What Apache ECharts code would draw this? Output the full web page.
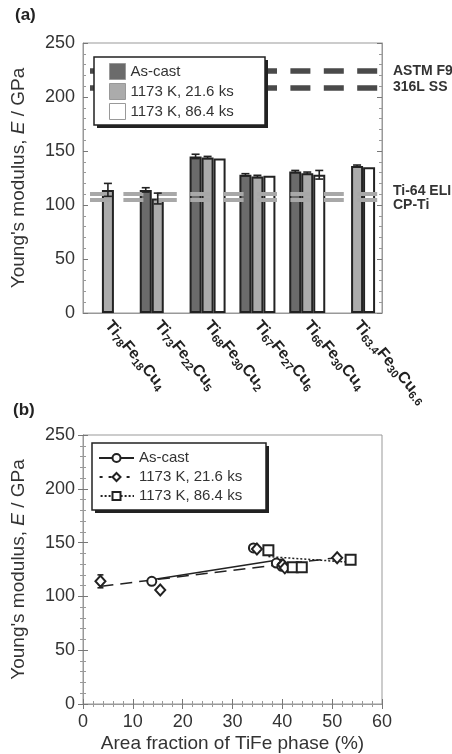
<!DOCTYPE html>
<html>
<head>
<meta charset="utf-8">
<script src="https://cdn.jsdelivr.net/npm/echarts@6/dist/echarts.min.js"></script>
<style>
  html, body { margin: 0; padding: 0; background: #fff; }
  #chart { width: 452px; height: 754px; }
</style>
</head>
<body>
<div id="chart"></div>
<script>
// ---- data ----
var categories = ['Ti78Fe18Cu4', 'Ti73Fe22Cu5', 'Ti68Fe30Cu2', 'Ti67Fe27Cu6', 'Ti66Fe30Cu4', 'Ti63.4Fe30Cu6.6'];
var asCastE = ['-', 114, 145, 128, 131, '-'];
var h216E = [114, 106, 144, 126.5, 129.5, 136];
var h864E = ['-', '-', 143, 127, 128, 135];
var asCastErr = [0, 2, 2, 1, 1, 0];
var h216Err = [6, 5, 1, 1, 1, 1];
var h864Err = [0, 0, 0, 0, 4, 0];
// reference materials (GPa)
var refNames = ['ASTM F90', '316L SS', 'Ti-64 ELI', 'CP-Ti'];
var refValues = [224, 209, 110, 105];

// (b) area fraction of TiFe (%) vs E
var asCastPts = [[13.8, 114], [34.2, 145], [38.8, 131], [39.9, 128]];
var h216Pts = [[3.5, 114], [15.5, 106], [34.9, 144], [40.1, 129.5], [40.5, 126.5], [51, 136]];
var h864Pts = [[37.2, 143], [42.1, 127], [43.9, 127], [53.7, 134]];
var h216PtErr = [[3.5, 114, 6]];
var asCastFit = [[13.8, 115.5], [40, 134.5]];
var h216Fit = [[3.7, 109.5], [51, 136]];
var h864Fit = [[37.2, 137], [53.7, 131.7]];

var seriesNames = ['As-cast', '1173 K, 21.6 ks', '1173 K, 86.4 ks'];

var FONT = 'Liberation Sans, Arial, sans-serif';
var BAR_W = 12;
var INK = '#222';

var chart = echarts.init(document.getElementById('chart'));

function catLabel(v) {
  return v.replace(/([A-Za-z]+)/g, '{m|$1}').replace(/([\d.]+)(?![^{]*\|)/g, '{s|$1}');
}

function errBars(list, slot) {
  var out = [];
  var vals = [asCastE, h216E, h864E][slot];
  list.forEach(function (e, i) {
    if (e > 0 && vals[i] !== '-') out.push([i, vals[i], e, slot]);
  });
  return out;
}

function errShape(x, y1, y2, cap) {
  var st = { stroke: INK, lineWidth: 1.6 };
  return {
    type: 'group',
    children: [
      { type: 'line', shape: { x1: x, y1: y1, x2: x, y2: y2 }, style: st },
      { type: 'line', shape: { x1: x - cap, y1: y1, x2: x + cap, y2: y1 }, style: st },
      { type: 'line', shape: { x1: x - cap, y1: y2, x2: x + cap, y2: y2 }, style: st }
    ]
  };
}

function renderErr(params, api) {
  var v = api.value(1), e = api.value(2), slot = api.value(3);
  var top = api.coord([api.value(0), v + e]);
  var bot = api.coord([api.value(0), v - e]);
  return errShape(top[0] + (slot - 1) * BAR_W, top[1], bot[1], 4);
}

function refLine(name, value, color, width, offsetY) {
  return {
    yAxis: value,
    name: name,
    lineStyle: { color: color, width: width, type: [20, 13.4], dashOffset: 26.4 },
    label: {
      show: true, position: 'end', formatter: name, distance: 11,
      color: '#333', fontFamily: FONT, fontWeight: 'bold', fontSize: 14,
      offset: [0, offsetY]
    }
  };
}

// legend frame with a hard drop shadow
function legendBox(x, y, w, h) {
  return [
    { type: 'rect', z: 9, silent: true, shape: { x: x + 3, y: y + 3, width: w, height: h }, style: { fill: INK } },
    { type: 'rect', z: 9, silent: true, shape: { x: x, y: y, width: w, height: h },
      style: { fill: '#fff', stroke: INK, lineWidth: 1.5 } }
  ];
}

var yTitle = "Young's modulus, {i|E} / GPa";
var yTitleStyle = {
  fontFamily: FONT, fontSize: 19, color: '#333',
  rich: { i: { fontFamily: FONT, fontSize: 19, color: '#333', fontStyle: 'italic' } }
};
var tickIn = { show: true, inside: true, length: 5, lineStyle: { color: '#777' } };
var minorIn = { show: true, splitNumber: 5, length: 3, lineStyle: { color: '#999' } };
var frameLine = { show: true, lineStyle: { color: '#999', width: 1 } };

var pointStyle = { color: '#fff', borderColor: INK, borderWidth: 2 };

var legendText = { fontFamily: FONT, fontSize: 15, color: '#333', lineHeight: 16 };

var option = {
  animation: false,
  title: [
    { text: '(a)', left: 10, top: 2, textStyle: { fontFamily: FONT, fontSize: 17, fontWeight: 'bold', color: '#222' } },
    { text: '(b)', left: 8, top: 397, textStyle: { fontFamily: FONT, fontSize: 17, fontWeight: 'bold', color: '#222' } }
  ],
  graphic: legendBox(94, 57, 171, 68).concat(legendBox(92, 443, 174, 67)),
  grid: [
    { left: 83, right: 70, top: 43, height: 270, show: true, borderColor: '#999', borderWidth: 1 },
    { left: 83, right: 70, top: 435, height: 270, show: true, borderColor: '#999', borderWidth: 1 }
  ],
  legend: [
    {
      left: 94, top: 57, orient: 'vertical', z: 10,
      data: seriesNames,
      icon: 'rect', itemWidth: 16, itemHeight: 16, itemGap: 3, itemTextGap: 13,
      padding: [6, 10, 8, 15],
      itemStyle: { borderColor: '#999', borderWidth: 1 },
      textStyle: legendText,
      selectedMode: false
    },
    {
      left: 92, top: 443, orient: 'vertical', z: 10,
      data: ['b:' + seriesNames[0], 'b:' + seriesNames[1], 'b:' + seriesNames[2]],
      formatter: function (n) { return n.replace('b:', ''); },
      itemWidth: 35, itemHeight: 10, itemGap: 3, itemTextGap: 10,
      padding: [7, 10, 6, 6],
      lineStyle: { opacity: 1 },
      textStyle: legendText,
      selectedMode: false
    }
  ],
  xAxis: [
    {
      type: 'category', gridIndex: 0, data: categories,
      axisLine: frameLine, axisTick: { show: false },
      axisLabel: {
        interval: 0, rotate: -50, margin: 10, color: '#222',
        formatter: catLabel,
        rich: {
          m: { fontFamily: FONT, fontSize: 16, fontWeight: 'bold', color: '#222', lineHeight: 22 },
          s: { fontFamily: FONT, fontSize: 11, fontWeight: 'bold', color: '#222', padding: [9, 0, 0, 0] }
        }
      }
    },
    {
      type: 'value', gridIndex: 1, min: 0, max: 60, interval: 10,
      axisLine: frameLine, axisTick: tickIn, minorTick: minorIn, splitLine: { show: false },
      axisLabel: { fontFamily: FONT, fontSize: 18, color: '#333', margin: 9 },
      name: 'Area fraction of TiFe phase (%)', nameLocation: 'middle', nameGap: 30,
      nameTextStyle: { fontFamily: FONT, fontSize: 19, color: '#333' }
    },
    {
      type: 'value', gridIndex: 1, min: 0, max: 60, interval: 10, position: 'top',
      axisLine: frameLine, axisTick: tickIn, minorTick: minorIn, splitLine: { show: false },
      axisLabel: { show: false }
    }
  ],
  yAxis: [
    {
      type: 'value', gridIndex: 0, min: 0, max: 250, interval: 50,
      axisLine: frameLine, axisTick: tickIn, minorTick: minorIn, splitLine: { show: false },
      axisLabel: { fontFamily: FONT, fontSize: 18, color: '#333', margin: 8 },
      name: yTitle, nameLocation: 'middle', nameGap: 55, nameTextStyle: yTitleStyle
    },
    {
      type: 'value', gridIndex: 0, min: 0, max: 250, interval: 50, position: 'right',
      axisLine: frameLine, axisTick: tickIn, minorTick: minorIn, splitLine: { show: false },
      axisLabel: { show: false }
    },
    {
      type: 'value', gridIndex: 1, min: 0, max: 250, interval: 50,
      axisLine: frameLine, axisTick: tickIn, minorTick: minorIn, splitLine: { show: false },
      axisLabel: { fontFamily: FONT, fontSize: 18, color: '#333', margin: 8 },
      name: yTitle, nameLocation: 'middle', nameGap: 55, nameTextStyle: yTitleStyle
    },
    {
      type: 'value', gridIndex: 1, min: 0, max: 250, interval: 50, position: 'right',
      axisLine: frameLine, axisTick: tickIn, minorTick: minorIn, splitLine: { show: false },
      axisLabel: { show: false }
    }
  ],
  series: [
    {
      name: seriesNames[0], type: 'bar', xAxisIndex: 0, yAxisIndex: 0,
      data: asCastE, barWidth: BAR_W, barGap: '0%',
      itemStyle: { color: '#6b6b6b', borderColor: INK, borderWidth: 2 }
    },
    {
      name: seriesNames[1], type: 'bar', xAxisIndex: 0, yAxisIndex: 0,
      data: h216E, barWidth: BAR_W, barGap: '0%',
      itemStyle: { color: '#ababab', borderColor: INK, borderWidth: 2 }
    },
    {
      name: seriesNames[2], type: 'bar', xAxisIndex: 0, yAxisIndex: 0,
      data: h864E, barWidth: BAR_W, barGap: '0%',
      itemStyle: { color: '#ffffff', borderColor: INK, borderWidth: 2 }
    },
    {
      type: 'line', xAxisIndex: 0, yAxisIndex: 0, data: [], z: 5, silent: true,
      markLine: {
        silent: true, symbol: 'none', animation: false,
        data: [
          refLine(refNames[0], refValues[0], '#4a4a4a', 5.5, 0),
          refLine(refNames[1], refValues[1], '#4a4a4a', 5.5, 0),
          refLine(refNames[2], refValues[2], '#a8a8a8', 4, -3),
          refLine(refNames[3], refValues[3], '#a8a8a8', 4, 6)
        ]
      }
    },
    {
      type: 'custom', xAxisIndex: 0, yAxisIndex: 0, z: 6, silent: true,
      renderItem: renderErr,
      data: errBars(asCastErr, 0).concat(errBars(h216Err, 1), errBars(h864Err, 2))
    },
    // (b) fits
    {
      type: 'line', xAxisIndex: 1, yAxisIndex: 2, data: asCastFit, symbol: 'none', silent: true,
      lineStyle: { color: INK, width: 1.5, type: 'solid' }
    },
    {
      type: 'line', xAxisIndex: 1, yAxisIndex: 2, data: h216Fit, symbol: 'none', silent: true,
      lineStyle: { color: INK, width: 1.5, type: [12, 7] }
    },
    {
      type: 'line', xAxisIndex: 1, yAxisIndex: 2, data: h864Fit, symbol: 'none', silent: true,
      lineStyle: { color: INK, width: 1.5, type: [2, 2] }
    },
    {
      type: 'custom', xAxisIndex: 1, yAxisIndex: 2, z: 3, silent: true,
      renderItem: function (params, api) {
        var top = api.coord([api.value(0), api.value(1) + api.value(2)]);
        var bot = api.coord([api.value(0), api.value(1) - api.value(2)]);
        return errShape(top[0], top[1], bot[1], 3);
      },
      data: h216PtErr
    },
    // (b) points
    {
      name: 'b:' + seriesNames[0], type: 'line', xAxisIndex: 1, yAxisIndex: 2, z: 4,
      data: asCastPts, symbol: 'circle', symbolSize: 9, showSymbol: true,
      lineStyle: { color: INK, width: 1.5, type: 'solid', opacity: 0 },
      itemStyle: pointStyle
    },
    {
      name: 'b:' + seriesNames[1], type: 'line', xAxisIndex: 1, yAxisIndex: 2, z: 4,
      data: h216Pts, symbol: 'diamond', symbolSize: [10, 11], showSymbol: true,
      lineStyle: { color: INK, width: 1.5, type: [3, 6], opacity: 0 },
      itemStyle: pointStyle
    },
    {
      name: 'b:' + seriesNames[2], type: 'line', xAxisIndex: 1, yAxisIndex: 2, z: 4,
      data: h864Pts, symbol: 'rect', symbolSize: 10, showSymbol: true,
      lineStyle: { color: INK, width: 1.5, type: [2, 2], opacity: 0 },
      itemStyle: pointStyle
    }
  ]
};

chart.setOption(option);
</script>
</body>
</html>
